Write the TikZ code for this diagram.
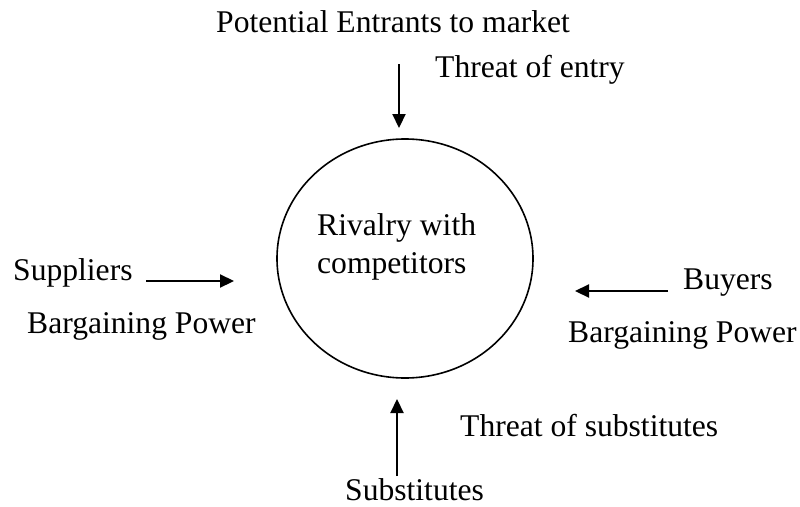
\documentclass[tikz,border=0pt]{standalone}
\usepackage{fontspec}
\setmainfont{Liberation Serif}
\usetikzlibrary{arrows.meta,shapes.geometric}
\begin{document}
\begin{tikzpicture}[x=1pt,y=-1pt,
  label/.style={anchor=base west,inner sep=0pt,font=\fontsize{31.6}{38}\selectfont},
  force/.style={line width=2.2pt,-{Triangle[length=14pt,width=13pt]}},
  rim/.style={draw,line width=1.6pt,ellipse,minimum width=256pt,minimum height=239pt,inner sep=0pt}]
  \useasboundingbox[fill=white] (0,0) rectangle (800,506);

  % central force
  \node[rim] (rivalry) at (405,258.5) {};
  \node[label] (rivalryA) at (317,235) {Rivalry with};
  \node[label] (rivalryB) at (317,273) {competitors};

  % surrounding forces
  \node[label] (entrants) at (216,32) {Potential Entrants to market};
  \node[label] (entry) at (435,77) {Threat of entry};
  \node[label] (suppliers) at (13,280) {Suppliers};
  \node[label] (supplierpower) at (27,333) {Bargaining Power};
  \node[label] (buyers) at (683,289) {Buyers};
  \node[label] (buyerpower) at (568,342) {Bargaining Power};
  \node[label] (subthreat) at (460,436) {Threat of substitutes};
  \node[label] (substitutes) at (345,500) {Substitutes};

  % arrow ends
  \coordinate (topS) at (399,64);
  \coordinate (topE) at (399,128);
  \coordinate (leftS) at (146,281);
  \coordinate (leftE) at (234,281);
  \coordinate (rightS) at (668,291);
  \coordinate (rightE) at (575,291);
  \coordinate (botS) at (397,476);
  \coordinate (botE) at (397,399);

  \draw[force] (topS) -- (topE);
  \draw[force] (leftS) -- (leftE);
  \draw[force] (rightS) -- (rightE);
  \draw[force] (botS) -- (botE);
\end{tikzpicture}
\end{document}
